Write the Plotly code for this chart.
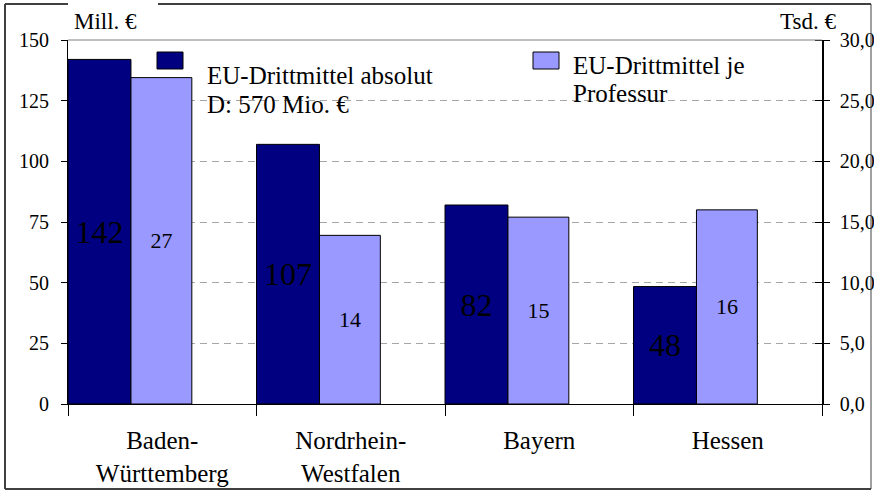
import plotly.graph_objects as go

# ---- data ----
categories = ["Baden-Württemberg", "Nordrhein-Westfalen", "Bayern", "Hessen"]
tick_labels = ["Baden-<br>Württemberg", "Nordrhein-<br>Westfalen", "Bayern", "Hessen"]
eu_absolut = [142, 107, 82, 48.4]          # Mill. €
eu_je_professur = [26.9, 13.9, 15.4, 16.0]  # Tsd. €
legend_abs = ["EU-Drittmittel absolut", "D: 570 Mio. €"]
legend_prof = ["EU-Drittmittel je", "Professur"]
left_unit = "Mill. €"
right_unit = "Tsd. €"

W, H = 874, 491
L, R, T, B = 68, 52, 40, 87
PW, PH = W - L - R, H - T - B
FONT = "'Liberation Serif', 'Times New Roman', 'DejaVu Serif', serif"
DARK = "#000080"
LIGHT = "#9999FF"


def xp(px):
    return (px - L) / PW


def yp(py):
    return (H - B - py) / PH


fig = go.Figure()
fig.add_trace(go.Bar(
    x=categories, y=eu_absolut, name=" ".join(legend_abs), yaxis="y",
    offset=-0.5, width=0.334,
    marker=dict(color=DARK, line=dict(color="#000000", width=1)),
    texttemplate="%{y:.0f}", textposition="inside", insidetextanchor="middle",
    textangle=0, constraintext="none",
    insidetextfont=dict(family=FONT, size=32, color="#000000"),
    showlegend=False, cliponaxis=False,
))
fig.add_trace(go.Bar(
    x=categories, y=eu_je_professur, name=" ".join(legend_prof), yaxis="y2",
    offset=-0.166, width=0.323,
    marker=dict(color=LIGHT, line=dict(color="#000000", width=1)),
    texttemplate="%{y:.0f}", textposition="inside", insidetextanchor="middle",
    textangle=0, constraintext="none",
    insidetextfont=dict(family=FONT, size=22, color="#000000"),
    showlegend=False, cliponaxis=False,
))

shapes = []
# top solid line of plot area
shapes.append(dict(type="line", xref="paper", yref="paper", x0=0, x1=1, y0=1, y1=1,
                   line=dict(color="#808080", width=1), layer="above"))
# outer border (gap on top)
bc = dict(color="#404040", width=2)
shapes += [
    dict(type="line", xref="paper", yref="paper", x0=xp(5), x1=xp(5), y0=yp(4), y1=yp(489), line=bc),
    dict(type="line", xref="paper", yref="paper", x0=xp(871), x1=xp(871), y0=yp(4), y1=yp(489), line=dict(color="#404040", width=1)),
    dict(type="line", xref="paper", yref="paper", x0=xp(5), x1=xp(871), y0=yp(489), y1=yp(489), line=bc),
    dict(type="line", xref="paper", yref="paper", x0=xp(5), x1=xp(68), y0=yp(4), y1=yp(4), line=bc),
    dict(type="line", xref="paper", yref="paper", x0=xp(158), x1=xp(871), y0=yp(4), y1=yp(4), line=bc),
]
# legend swatches
shapes.append(dict(type="rect", xref="paper", yref="paper", x0=xp(157), x1=xp(183), y0=yp(52), y1=yp(69),
                   fillcolor=DARK, line=dict(color="#000000", width=1)))
shapes.append(dict(type="rect", xref="paper", yref="paper", x0=xp(533), x1=xp(559), y0=yp(52), y1=yp(69),
                   fillcolor=LIGHT, line=dict(color="#000000", width=1)))

tf = dict(family=FONT, size=25, color="#000000")
tu = dict(family=FONT, size=23, color="#000000")
annotations = [
    dict(text=legend_abs[0], x=xp(205), y=yp(75), xanchor="left", yanchor="middle", font=tf),
    dict(text=legend_abs[1], x=xp(205), y=yp(104), xanchor="left", yanchor="middle", font=tf),
    dict(text=legend_prof[0], x=xp(571), y=yp(65), xanchor="left", yanchor="middle", font=tf),
    dict(text=legend_prof[1], x=xp(571), y=yp(93), xanchor="left", yanchor="middle", font=tf),
    dict(text=left_unit, x=xp(72), y=yp(22), xanchor="left", yanchor="middle", font=tu),
    dict(text=right_unit, x=xp(838), y=yp(22), xanchor="right", yanchor="middle", font=tu),
]
for a in annotations:
    a.update(xref="paper", yref="paper", showarrow=False)

fig.update_layout(
    width=W, height=H, autosize=False,
    margin=dict(l=L, r=R, t=T, b=B, pad=0, autoexpand=False),
    paper_bgcolor="white", plot_bgcolor="white",
    barmode="overlay", separators=",.",
    font=dict(family=FONT, color="#000000"),
    shapes=shapes, annotations=annotations,
    xaxis=dict(
        type="category", range=[-0.5, 3.5], tickmode="array",
        tickvals=categories, ticktext=tick_labels,
        tickson="boundaries", ticks="outside", ticklen=11, tickcolor="#000000",
        showline=True, linecolor="#000000", linewidth=1,
        showgrid=False, zeroline=False, automargin=False,
        tickfont=dict(family=FONT, size=25, color="#000000"),
        ticklabelstandoff=14,
    ),
    yaxis=dict(
        range=[0, 150], tick0=0, dtick=25, ticks="outside", ticklen=6, tickcolor="#000000",
        showline=True, linecolor="#000000", linewidth=1,
        showgrid=True, gridcolor="#A6A6A6", griddash="7px,5px", gridwidth=1,
        zeroline=False, automargin=False,
        tickfont=dict(family=FONT, size=20, color="#000000"),
        ticklabelstandoff=8,
    ),
    yaxis2=dict(
        overlaying="y", side="right", range=[0, 30], tick0=0, dtick=5,
        tickformat=".1f", ticks="outside", ticklen=6, tickcolor="#000000",
        minor=dict(ticks="inside", ticklen=7, tickcolor="#000000", dtick=5, tick0=0, showgrid=False),
        showline=True, linecolor="#000000", linewidth=1.5,
        showgrid=False, zeroline=False, automargin=False,
        tickfont=dict(family=FONT, size=20, color="#000000"),
        ticklabelstandoff=6,
    ),
)

fig.write_html("out.html", config={"displayModeBar": False},
               post_script="document.body.style.margin='0';document.body.style.padding='0';")
